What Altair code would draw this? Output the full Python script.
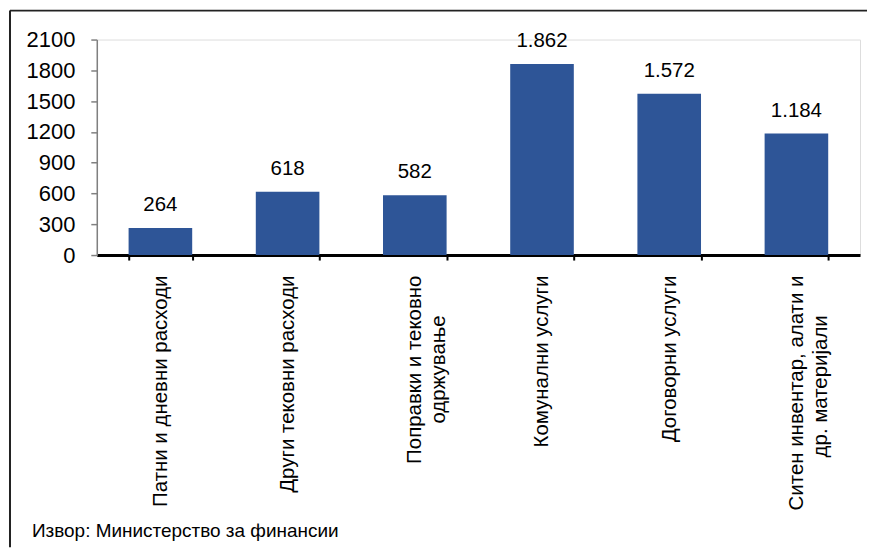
import altair as alt
import pandas as pd

categories = [
    "Патни и дневни расходи",
    "Други тековни расходи",
    "Поправки и тековно|одржување",
    "Комунални услуги",
    "Договорни услуги",
    "Ситен инвентар, алати и|др. материјали",
]
values = [264, 618, 582, 1862, 1572, 1184]
y_ticks = [0, 300, 600, 900, 1200, 1500, 1800, 2100]
source_text = "Извор: Министерство за финансии"

df = pd.DataFrame({
    "category": categories,
    "value": values,
    "label": [f"{v:,}".replace(",", ".") for v in values],
})

W, H = 765, 216
FONT = "Liberation Sans"
FILL = "\u00a0" * 40  # no-break spaces used to centre the shorter second line
END = "\u200b"        # zero-width char so the padding is not trimmed away

# second line of a two-line label is centred against the first one
label_expr = (
    "length(split(datum.label,'|')) > 1 ? "
    "[split(datum.label,'|')[0], "
    "split(datum.label,'|')[1] + substring('" + FILL + "', 0, "
    "round((length(split(datum.label,'|')[0]) - length(split(datum.label,'|')[1])) * 0.78))"
    " + '" + END + "'] "
    ": datum.label"
)

x_enc = alt.X(
    "category:N", sort=None,
    scale=alt.Scale(paddingInner=0.5, paddingOuter=0.25),
    axis=alt.Axis(
        title=None, labelAngle=270, labelAlign="right", labelBaseline="middle",
        labelPadding=15, labelFontSize=20.5, labelLineHeight=24, labelFont=FONT,
        labelColor="#000000", labelExpr=label_expr,
        domainColor="#000000", domainWidth=3, tickColor="#000000", tickWidth=2,
        tickSize=5, tickBand="extent", labelLimit=400,
    ),
)
y_enc = alt.Y(
    "value:Q",
    scale=alt.Scale(domain=[0, 2100], nice=False),
    axis=alt.Axis(
        title=None, values=y_ticks, format="d", labelOverlap=False, grid=False,
        labelFontSize=22, labelFont=FONT, labelColor="#000000", labelPadding=16,
        domainColor="#808080", domainWidth=1.5, tickColor="#808080",
        tickSize=6, tickWidth=1.5, labelFlush=False, labelBound=False,
    ),
)

base = alt.Chart(df)
bars = base.mark_bar(color="#2E5597").encode(x=x_enc, y=y_enc)
texts = base.mark_text(
    baseline="alphabetic", dy=-17, fontSize=20.5, font=FONT, color="#000000"
).encode(x=x_enc, y=y_enc, text="label:N")

frame_df = pd.DataFrame({"k": [0]})
frame = alt.Chart(frame_df)
top_line = frame.mark_rule(color="#222222", strokeWidth=2).encode(
    x=alt.value(-87), x2=alt.value(772), y=alt.value(-29)
)
left_line = frame.mark_rule(color="#222222", strokeWidth=2).encode(
    x=alt.value(-87), y=alt.value(-29), y2=alt.value(509)
)
src = alt.Chart(pd.DataFrame({"t": [source_text]})).mark_text(
    align="left", baseline="alphabetic", fontSize=19, font=FONT, color="#000000"
).encode(x=alt.value(-65), y=alt.value(499), text="t:N")

chart = alt.layer(bars, texts, top_line, left_line, src).properties(
    width=W, height=H,
    padding={"left": 1, "top": 1, "right": 0, "bottom": 0},
).configure_view(stroke=None).configure(background="white")

chart.save("out.html", embed_options={"renderer": "svg", "actions": False})
